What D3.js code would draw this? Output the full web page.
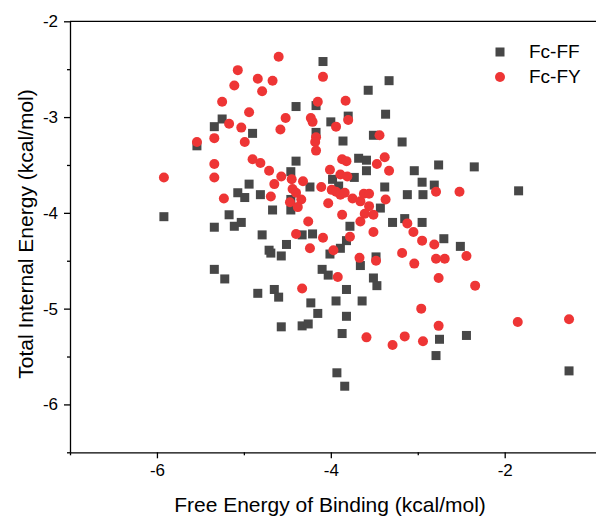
<!DOCTYPE html>
<html>
<head>
<meta charset="utf-8">
<script src="https://cdn.jsdelivr.net/npm/d3@7"></script>
<style>
  body { margin: 0; background: #fff; }
  svg { display: block; font-family: "Liberation Sans", Arial, sans-serif; }
</style>
</head>
<body>
<svg id="chart"></svg>
<script>
// Fc-FF (squares)
const ffFree = [-5.92, -5.54, -5.34, -5.25, -4.90, -4.40, -4.40, -4.46, -4.94, -5.07,
  -4.99, -4.81, -4.46, -5.17, -4.67, -4.46, -5.34, -5.03, -5.11, -4.79,
  -4.51, -4.71, -4.69, -4.57, -5.34, -5.22, -4.84, -4.65, -4.60, -4.57,
  -4.33, -4.26, -4.09, -3.33, -3.57, -4.17, -3.37, -3.80, -4.00, -4.17,
  -3.86, -3.51, -3.18, -3.68, -3.59, -3.59, -3.04, -2.76, -3.98, -3.73,
  -3.91, -4.24, -3.38, -3.12, -2.95, -2.81, -2.94, -3.43, -3.29, -3.15,
  -2.95, -3.78, -4.21, -4.33, -3.82, -3.89, -4.01, -2.70, -3.48, -3.66,
  -4.10, -4.03, -3.51, -3.47, -3.82, -4.23, -3.94, -3.64, -4.15, -3.82,
  -3.87, -2.75, -2.79, -3.93, -3.84, -2.35, -1.84, -2.51, -2.44, -1.26];
const ffInternal = [-4.04, -3.30, -3.10, -3.02, -3.17, -2.89, -3.46, -3.57, -3.70, -3.79,
  -3.84, -3.81, -3.86, -4.02, -3.97, -3.97, -4.15, -4.10, -4.14, -4.23,
  -4.33, -4.39, -4.42, -4.45, -4.59, -4.69, -4.84, -4.80, -4.88, -5.19,
  -5.18, -5.16, -2.42, -2.62, -2.72, -2.88, -2.97, -2.99, -3.05, -3.16,
  -3.25, -3.19, -3.26, -3.43, -3.45, -3.56, -3.56, -3.50, -3.65, -3.63,
  -3.72, -3.73, -3.73, -3.81, -3.68, -3.71, -3.81, -3.95, -4.10, -4.06,
  -4.10, -4.14, -4.22, -4.23, -4.29, -4.37, -4.43, -4.27, -4.46, -4.55,
  -4.59, -4.65, -4.68, -4.76, -4.80, -4.94, -4.92, -4.92, -5.05, -5.08,
  -5.26, -5.32, -5.49, -5.67, -5.81, -3.52, -3.77, -4.35, -5.28, -5.65];

// Fc-FY (circles)
const fyFree = [-4.60, -5.07, -4.84, -4.67, -5.11, -4.79, -5.25, -4.94, -4.52, -5.17,
  -5.03, -4.58, -5.34, -5.54, -4.99, -4.90, -4.81, -5.34, -4.71, -5.92,
  -5.34, -4.57, -4.45, -4.65, -5.23, -4.69, -4.44, -4.40, -4.34, -4.47,
  -4.38, -4.40, -4.32, -4.11, -4.09, -4.15, -3.83, -4.23, -4.21, -3.80,
  -3.94, -3.44, -4.17, -4.18, -4.17, -3.87, -3.82, -3.38, -3.47, -3.33,
  -4.01, -3.89, -3.81, -3.99, -3.94, -3.89, -3.84, -4.03, -3.75, -3.66,
  -3.62, -3.56, -3.37, -3.56, -3.61, -3.51, -3.87, -3.66, -4.26, -4.09,
  -3.78, -3.51, -4.24, -3.97, -3.67, -3.48, -3.12, -3.05, -2.95, -2.81,
  -2.79, -3.18, -3.04, -2.79, -2.69, -2.44, -2.76, -3.92, -4.33, -2.96,
  -2.76, -3.59, -3.29, -3.15, -2.94, -2.52, -2.34, -1.85, -1.26];
const fyInternal = [-2.37, -2.51, -2.60, -2.62, -2.67, -2.73, -2.84, -2.95, -3.01, -3.07,
  -3.11, -3.13, -3.22, -3.26, -3.26, -3.44, -3.48, -3.49, -3.56, -3.63,
  -3.63, -3.62, -3.65, -3.70, -3.85, -3.83, -3.75, -3.79, -3.86, -3.89,
  -3.94, -4.22, -3.67, -3.73, -2.58, -2.84, -2.83, -3.01, -3.05, -3.03,
  -3.10, -3.19, -3.21, -3.26, -3.35, -3.44, -3.46, -3.42, -3.49, -3.56,
  -3.55, -3.60, -3.62, -3.76, -3.78, -3.81, -3.79, -3.90, -3.85, -3.88,
  -3.80, -3.80, -3.86, -3.93, -4.01, -4.02, -4.02, -4.09, -4.09, -4.26,
  -4.25, -4.20, -4.37, -4.39, -4.47, -4.50, -4.11, -4.20, -4.29, -4.33,
  -3.78, -4.42, -4.53, -4.48, -4.48, -4.45, -4.68, -4.67, -4.79, -5.00,
  -5.18, -5.30, -5.38, -5.29, -5.34, -3.78, -4.76, -5.14, -5.11];

// ticks
const xMajorTicks = [-6, -4, -2];
const xMinorTicks = [-7, -5, -3];
const yMajorTicks = [-2, -3, -4, -5, -6];
const yMinorTicks = [-2.5, -3.5, -4.5, -5.5, -6.5];

const seriesNames = ["Fc-FF", "Fc-FY"];
const ffColor = "#474747";
const fyColor = "#ee3535";

let W = 596, H = 520;
let svg = d3.select("#chart").attr("width", W).attr("height", H);

// plot box
let plotLeft = 70, plotTop = 21.3, plotBottom = 452.3;
let x = d3.scaleLinear().domain([-7, -0.9]).range([plotLeft, plotLeft + 6.1 * 86.94]);
let y = d3.scaleLinear().domain([-6.5, -2]).range([plotBottom, plotTop]);

// top frame line
svg.append("line")
  .attr("x1", x(-7)).attr("x2", W)
  .attr("y1", plotTop).attr("y2", plotTop)
  .attr("stroke", "#000").attr("stroke-width", 1.3);

// x axis
svg.append("g").attr("transform", "translate(0," + plotBottom + ")")
  .call(d3.axisBottom(x).tickValues(xMajorTicks).tickSize(6).tickSizeOuter(0)
    .tickPadding(6).tickFormat(d => String(d)));
svg.append("g").attr("transform", "translate(0," + plotBottom + ")")
  .call(d3.axisBottom(x).tickValues(xMinorTicks).tickSize(3).tickSizeOuter(0).tickFormat(""))
  .select(".domain").remove();

// y axis
svg.append("g").attr("transform", "translate(" + plotLeft + ",0)")
  .call(d3.axisLeft(y).tickValues(yMajorTicks).tickSize(6).tickSizeOuter(0)
    .tickPadding(6).tickFormat(d => String(d)));
svg.append("g").attr("transform", "translate(" + plotLeft + ",0)")
  .call(d3.axisLeft(y).tickValues(yMinorTicks).tickSize(3).tickSizeOuter(0).tickFormat(""))
  .select(".domain").remove();

svg.selectAll(".domain").attr("stroke-width", 1.3);
svg.selectAll(".tick line").attr("stroke-width", 1.3);
svg.selectAll(".tick text")
  .style("font-size", "17px")
  .style("font-family", "'Liberation Sans', Arial, sans-serif")
  .attr("fill", "#000");

// axis titles
svg.append("text")
  .attr("x", 330)
  .attr("y", 512)
  .style("text-anchor", "middle")
  .style("font-size", "21px")
  .text("Free Energy of Binding (kcal/mol)");

svg.append("text")
  .attr("transform", "rotate(-90)")
  .attr("x", -234)
  .attr("y", 33)
  .style("text-anchor", "middle")
  .style("font-size", "21px")
  .text("Total Internal Energy (kcal/mol)");

// squares
let ff = ffFree.map((v, i) => ({x: v, y: ffInternal[i]}));
svg.append("g").selectAll("rect")
  .data(ff)
  .enter().append("rect")
  .attr("x", d => x(d.x) - 4.5)
  .attr("y", d => y(d.y) - 4.5)
  .attr("width", 9)
  .attr("height", 9)
  .attr("fill", ffColor);

// circles
let fy = fyFree.map((v, i) => ({x: v, y: fyInternal[i]}));
svg.append("g").selectAll("circle")
  .data(fy)
  .enter().append("circle")
  .attr("cx", d => x(d.x))
  .attr("cy", d => y(d.y))
  .attr("r", 5)
  .attr("fill", fyColor);

// legend
let legend = svg.append("g");
legend.append("rect")
  .attr("x", 495.5).attr("y", 47.5)
  .attr("width", 9).attr("height", 9)
  .attr("fill", ffColor);
legend.append("circle")
  .attr("cx", 500).attr("cy", 77).attr("r", 5)
  .attr("fill", fyColor);
legend.selectAll("text.lbl")
  .data(seriesNames)
  .enter().append("text")
  .attr("class", "lbl")
  .attr("x", 529)
  .attr("y", (d, i) => 58 + i * 25)
  .style("font-size", "19px")
  .text(d => d);
</script>
</body>
</html>
